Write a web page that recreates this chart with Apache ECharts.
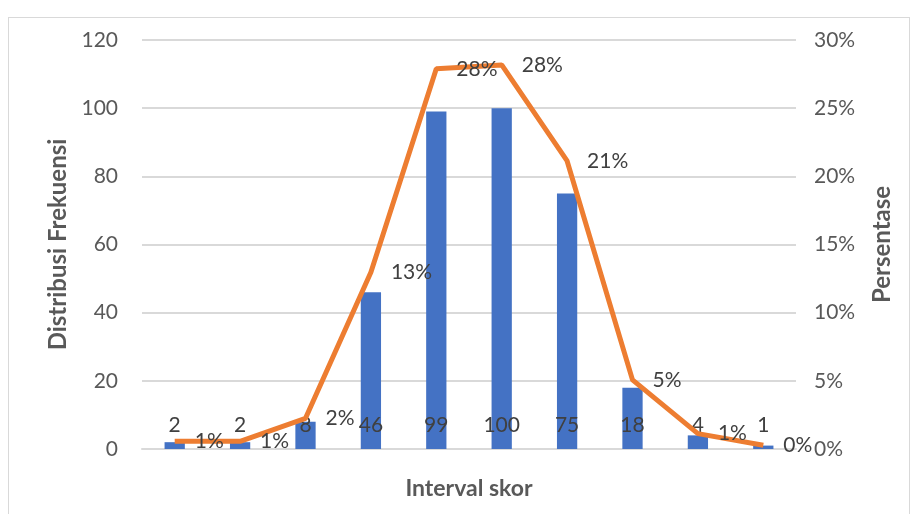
<!DOCTYPE html>
<html><head><meta charset="utf-8">
<script src="https://cdn.jsdelivr.net/npm/echarts@6/dist/echarts.min.js"></script>
<style>html,body{margin:0;padding:0;background:#fff}#c{width:917px;height:514px;position:relative}
#frame{position:absolute;left:8px;top:17px;width:902px;height:520px;border:1px solid #d9d9d9;box-sizing:border-box;pointer-events:none}</style>
</head><body>
<div id="c"></div><div id="frame"></div>
<script>
const categories = ['1','2','3','4','5','6','7','8','9','10'];
const frequencies = [2, 2, 8, 46, 99, 100, 75, 18, 4, 1];
const percentages = [0.56, 0.56, 2.25, 12.96, 27.89, 28.17, 21.13, 5.07, 1.13, 0.28];
const leftTicks = {min: 0, max: 120, interval: 20};
const rightTicks = {min: 0, max: 30, interval: 5};

const font = 'Lato, "Liberation Sans", sans-serif';
const chart = echarts.init(document.getElementById('c'));
chart.setOption({
  animation: false,
  grid: {left: 142, right: 121, top: 40, bottom: 65},
  xAxis: {
    type: 'category', data: categories,
    name: 'Interval skor', nameLocation: 'middle', nameGap: 28,
    nameTextStyle: {fontFamily: font, fontSize: 23, fontWeight: 'bold', color: '#595959'},
    axisLine: {show: true, lineStyle: {color: '#d9d9d9', width: 2}},
    axisTick: {show: false}, axisLabel: {show: false}
  },
  yAxis: [{
    type: 'value', min: leftTicks.min, max: leftTicks.max, interval: leftTicks.interval,
    name: 'Distribusi Frekuensi', nameLocation: 'middle', nameGap: 66, nameRotate: 90,
    nameTextStyle: {fontFamily: font, fontSize: 24, fontWeight: 'bold', color: '#595959'},
    axisLine: {show: false}, axisTick: {show: false},
    axisLabel: {fontFamily: font, fontSize: 21, color: '#595959', margin: 24},
    splitLine: {lineStyle: {color: '#d9d9d9', width: 2}}
  }, {
    type: 'value', min: rightTicks.min, max: rightTicks.max, interval: rightTicks.interval,
    name: 'Persentase', nameLocation: 'middle', nameGap: 74, nameRotate: 90,
    nameTextStyle: {fontFamily: font, fontSize: 24, fontWeight: 'bold', color: '#595959'},
    axisLine: {show: false}, axisTick: {show: false},
    axisLabel: {fontFamily: font, fontSize: 21, color: '#595959', margin: 18, formatter: v => v + '%'},
    splitLine: {show: false}
  }],
  series: [{
    type: 'bar', data: frequencies, barWidth: '31%', yAxisIndex: 0,
    itemStyle: {color: '#4472C4'},
    label: {show: true, position: 'insideBottom', distance: 13, fontFamily: font, fontSize: 21, color: '#404040'}
  }, {
    type: 'line', data: percentages, yAxisIndex: 1, symbol: 'circle', symbolSize: 0, showSymbol: true,
    lineStyle: {color: '#ED7D31', width: 5}, itemStyle: {color: '#ED7D31'},
    label: {show: true, position: 'right', distance: 20, fontFamily: font, fontSize: 21, color: '#404040',
      formatter: p => Math.round(p.value) + '%'}
  }]
});
</script>
</body></html>
